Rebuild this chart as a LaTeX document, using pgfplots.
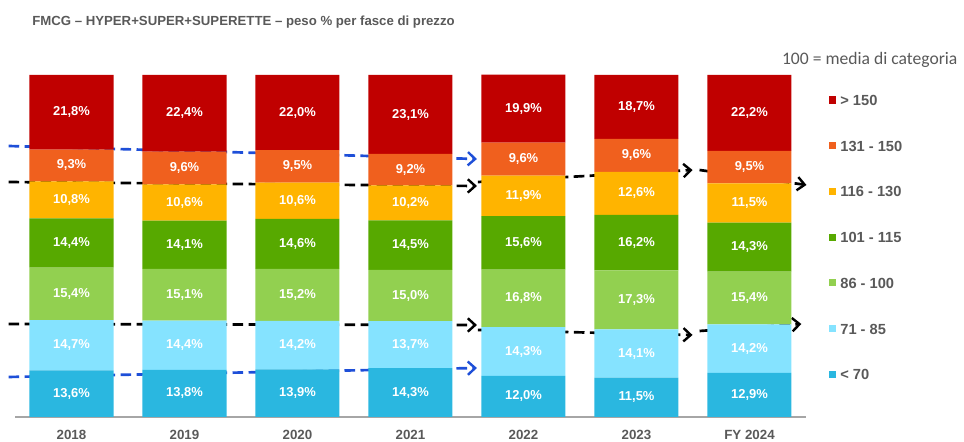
\documentclass[border=0pt]{standalone}
\usepackage{pgfplots}
\pgfplotsset{compat=1.18}
\usepackage{pgfplotstable}
\usetikzlibrary{arrows.meta}
\usepackage{fontspec}
\setmainfont{Liberation Sans}
\newfontfamily\calibri{Carlito}

\definecolor{cGt}{HTML}{C00000}
\definecolor{cA}{HTML}{F0601E}
\definecolor{cB}{HTML}{FFB400}
\definecolor{cC}{HTML}{57A900}
\definecolor{cD}{HTML}{92D050}
\definecolor{cE}{HTML}{85E3FF}
\definecolor{cLt}{HTML}{2AB7E0}
\definecolor{txt}{HTML}{595959}
\definecolor{arrblue}{HTML}{1E4FD8}

% quote per fascia di prezzo (dal basso verso l'alto)
\pgfplotstableread{
x lt70 r71 r86 r101 r116 r131 gt150
0 13.6 14.7 15.4 14.4 10.8 9.3 21.8
1 13.8 14.4 15.1 14.1 10.6 9.6 22.4
2 13.9 14.2 15.2 14.6 10.6 9.5 22.0
3 14.3 13.7 15.0 14.5 10.2 9.2 23.1
4 12.0 14.3 16.8 15.6 11.9 9.6 19.9
5 11.5 14.1 17.3 16.2 12.6 9.6 18.7
6 12.9 14.2 15.4 14.3 11.5 9.5 22.2
}\shares

\pgfplotsset{
  seg/.style={fill=#1, draw=none},
}

\begin{document}
\begin{tikzpicture}
\path[use as bounding box] (-11.25pt,-18.75pt) rectangle (711.75pt,312.75pt);
\begin{axis}[
    ybar stacked,
    scale only axis,
    width=593.25pt, height=256.5pt,
    xmin=-0.5, xmax=6.5, ymin=0, ymax=100,
    bar width=63pt,
    clip=false,
    axis x line=bottom,
    axis y line=none,
    x axis line style={draw=black!35, line width=2.2pt, -},
    xtick={0,...,6},
    xticklabels={2018,2019,2020,2021,2022,2023,FY 2024},
    xtick style={draw=none},
    xticklabel style={font=\bfseries\fontsize{10}{12}\selectfont, text=txt, yshift=-4pt},
    point meta=explicit,
    nodes near coords={\pgfmathprintnumber[fixed,fixed zerofill,precision=1,use comma,assume math mode=true]{\pgfplotspointmeta}\%},
    every node near coord/.append style={font=\bfseries\fontsize{9.7}{11}\selectfont, text=white, anchor=center},
    reverse legend,
    legend style={draw=none, fill=none, at={(1.0291,0.943)}, anchor=north west, inner sep=0pt,
        row sep=26.3pt, column sep=3pt, font=\bfseries\fontsize{11}{13}\selectfont, text=txt,
        nodes={inner sep=0pt, text height=8pt, text depth=0pt},
        cells={anchor=west}},
    legend image code/.code={\fill[#1] (0pt,-2.6pt) rectangle (5.3pt,2.7pt);},
]
\addplot[seg=cLt] table[x=x, y=lt70, meta=lt70] {\shares};
\addplot[seg=cE] table[x=x, y=r71, meta=r71] {\shares};
\addplot[seg=cD] table[x=x, y=r86, meta=r86] {\shares};
\addplot[seg=cC] table[x=x, y=r101, meta=r101] {\shares};
\addplot[seg=cB] table[x=x, y=r116, meta=r116] {\shares};
\addplot[seg=cA] table[x=x, y=r131, meta=r131] {\shares};
\addplot[seg=cGt] table[x=x, y=gt150, meta=gt150] {\shares};
\legend{< 70, 71 - 85, 86 - 100, 101 - 115, 116 - 130, 131 - 150, > 150}

% frecce tratteggiate
\tikzset{trend/.style={line width=2pt, dash pattern=on 8pt off 4pt, -{Straight Barb[length=5.5pt,width=10pt,line width=1.8pt]}}}
\draw[trend, arrblue] (axis cs:-0.557,79.24) -- (axis cs:3.588,75.44);
\draw[trend, black] (axis cs:-0.557,68.71) -- (axis cs:3.588,67.54);
\draw[trend, black] (axis cs:3.596,68.71) -- (axis cs:5.496,72.22);
\draw[trend, black] (axis cs:5.558,72.22) -- (axis cs:6.504,67.84);
\draw[trend, black] (axis cs:-0.557,27.19) -- (axis cs:3.588,26.90);
\draw[trend, black] (axis cs:3.596,25.44) -- (axis cs:5.496,23.98);
\draw[trend, black] (axis cs:5.558,25.15) -- (axis cs:6.459,27.19);
\draw[trend, arrblue] (axis cs:-0.557,11.70) -- (axis cs:3.588,14.33);
\end{axis}
\node[anchor=west, inner sep=0pt, font=\bfseries\fontsize{9.9}{12}\selectfont, text=txt] at (12.75pt,296.25pt)
  {FMCG – HYPER+SUPER+SUPERETTE – peso \% per fasce di prezzo};
\node[anchor=east, inner sep=0pt, font=\calibri\fontsize{13.2}{15}\selectfont, text=txt] at (707pt,267.75pt)
  {100 = media di categoria};
\end{tikzpicture}
\end{document}
